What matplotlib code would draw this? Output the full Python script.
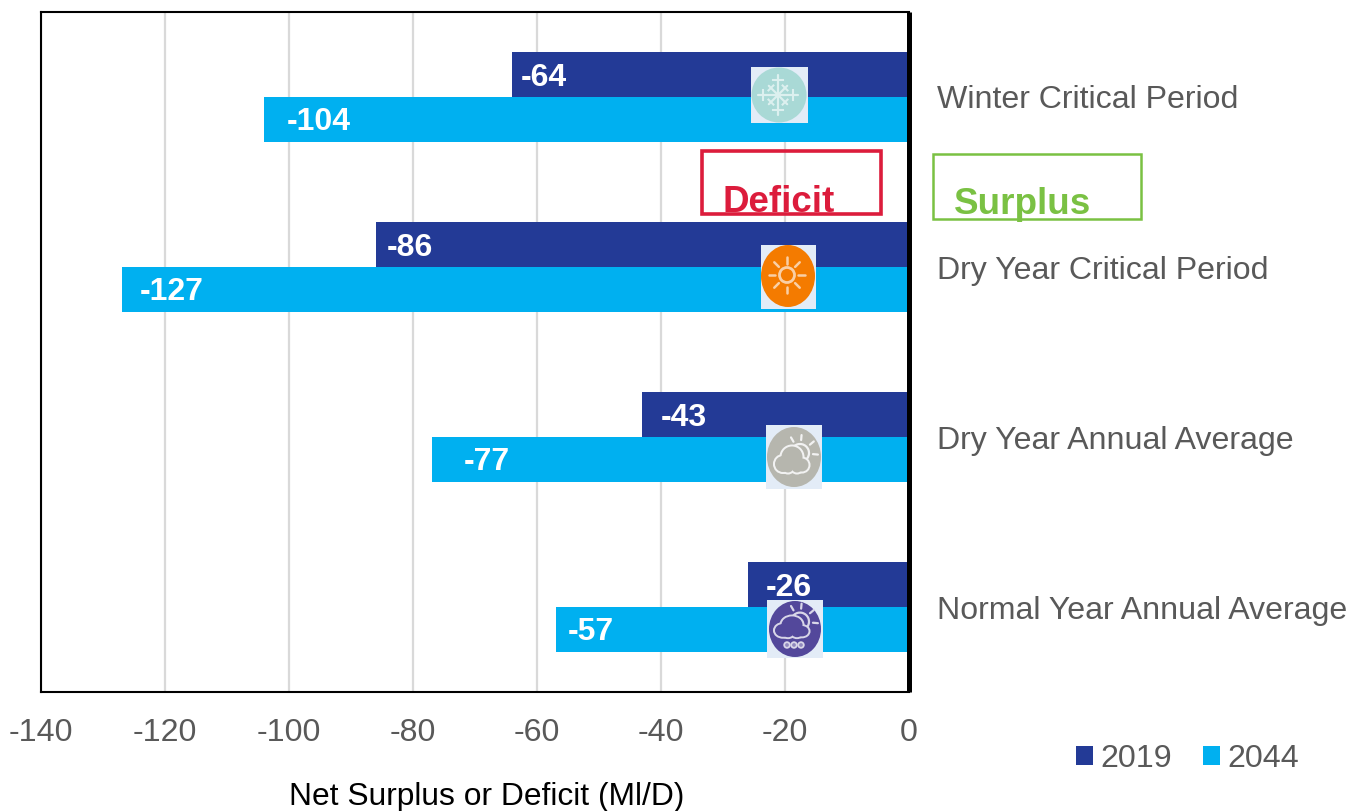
#!/usr/bin/env python3
"""Net surplus or deficit by planning scenario, 2019 vs 2044."""

import numpy as np
import matplotlib
matplotlib.use('Agg')
import matplotlib.pyplot as plt
from matplotlib.patches import Circle, Ellipse, Rectangle, Arc

plt.rcParams['font.family'] = ['Liberation Sans', 'DejaVu Sans']
plt.rcParams['axes.unicode_minus'] = False

categories = ['Winter Critical Period', 'Dry Year Critical Period',
              'Dry Year Annual Average', 'Normal Year Annual Average']
values_2019 = [-64, -86, -43, -26]
values_2044 = [-104, -127, -77, -57]
x_ticks = [-140, -120, -100, -80, -60, -40, -20, 0]

# label start, in pixels right of the bar end
offsets_2019 = [9, 11, 18, 18]
offsets_2044 = [23, 18, 32, 12]

W, H = 1370, 811
NAVY = '#233a96'
SKY = '#00b0f0'
GREY_TEXT = '#595959'
FS = 23.1

fig = plt.figure(figsize=(W / 100, H / 100), dpi=100)
ax = fig.add_axes([41 / W, 1 - 692 / H, 868 / W, 680 / H])

# === bars ===
y = np.arange(len(categories))
bar_h = 0.262
bars_a = ax.barh(y - bar_h / 2, values_2019, bar_h, color=NAVY, label='2019', zorder=3)
bars_b = ax.barh(y + bar_h / 2, values_2044, bar_h, color=SKY, label='2044', zorder=3)

for ypos, val, off in zip(y - bar_h / 2, values_2019, offsets_2019):
    ax.annotate(str(val), (val, ypos), xytext=(off * 0.72, -2.3), textcoords='offset points',
                color='white', fontsize=23, fontweight='bold', va='center', zorder=4)
for ypos, val, off in zip(y + bar_h / 2, values_2044, offsets_2044):
    ax.annotate(str(val), (val, ypos), xytext=(off * 0.72, -2.3), textcoords='offset points',
                color='white', fontsize=23, fontweight='bold', va='center', zorder=4)

ax.set_xlim(-140, 0)
ax.set_ylim(3.5, -0.5)
ax.set_xticks(x_ticks)
ax.set_yticks(y)
ax.set_yticklabels(categories)
ax.yaxis.tick_right()
ax.tick_params(axis='x', length=0, pad=19, labelsize=FS, labelcolor=GREY_TEXT)
ax.tick_params(axis='y', length=0, pad=20, labelsize=FS, labelcolor=GREY_TEXT)
ax.grid(True, axis='x', color='#d9d9d9', linewidth=1.6, zorder=0)
ax.set_axisbelow(True)
for side in ['top', 'left', 'bottom']:
    ax.spines[side].set_linewidth(1.5)
ax.spines['right'].set_linewidth(3.6)
ax.spines['right'].set_capstyle('butt')
ax.spines['right'].set_zorder(6)

fig.text(487 / W, 1 - 797 / H, 'Net Surplus or Deficit (Ml/D)', fontsize=22.9,
         color='black', ha='center', va='center')

fig.legend(handles=[bars_a, bars_b], loc='center', bbox_to_anchor=(1187.5 / W, 1 - 759 / H),
           ncol=2, frameon=False, fontsize=FS, labelcolor=GREY_TEXT, handlelength=0.53,
           handleheight=0.53, handletextpad=0.25, columnspacing=0.95, borderpad=0)

# === overlay in pixel coordinates: note boxes and icons ===
ov = fig.add_axes([0, 0, 1, 1], zorder=10)
ov.set_xlim(0, W)
ov.set_ylim(H, 0)
ov.axis('off')
ov.patch.set_alpha(0)

RED = '#dc1c3c'
GREEN = '#7ac143'
ov.add_patch(Rectangle((702.5, 151), 179, 63, fill=False, ec=RED, lw=2.6))
ov.text(723, 202, 'Deficit', color=RED, fontsize=26.5, fontweight='bold', va='center')
ov.add_patch(Rectangle((933.5, 154), 208, 65, fill=False, ec=GREEN, lw=1.8))
ov.text(954, 204, 'Surplus', color=GREEN, fontsize=26.6, fontweight='bold', va='center')


def backing(x0, y0, x1, y1, disc, cx, cy, w, h):
    """Pale square with the coloured disc on it."""
    ov.add_patch(Rectangle((x0, y0), x1 - x0, y1 - y0, fc='#e3ecf7', ec='none'))
    ov.add_patch(Ellipse((cx, cy), w, h, fc=disc, ec='none'))


def rays(cx, cy, angles, r0, r1, lw=1.6, color='#f6e3d2'):
    for deg in angles:
        a = np.radians(deg)
        ov.plot([cx + r0 * np.cos(a), cx + r1 * np.cos(a)],
                [cy + r0 * np.sin(a), cy + r1 * np.sin(a)],
                color=color, lw=lw, solid_capstyle='round')


def cloud(cx, cy, body, line='#f2f2f2', sy=1.0):
    """Cloud outline: outlined circles, then the same circles filled over the joins."""
    parts = [(-9, 3, 8.5), (0, -4, 11), (10, 4, 7), (-4, 6, 6), (5, 6, 6)]
    ov.add_patch(Arc((cx + 8, cy - 8 * sy), 18, 18, theta1=200, theta2=60, color=line, lw=1.6))
    for dx, dy, r in parts:
        ov.add_patch(Ellipse((cx + dx, cy + dy * sy), 2 * r, 2 * r * sy, fc=body, ec=line, lw=2.2))
    for dx, dy, r in parts:
        ov.add_patch(Ellipse((cx + dx, cy + dy * sy), 2 * r - 1, (2 * r - 1) * sy, fc=body, ec='none'))
    rays(cx + 8, cy - 8 * sy, [-120, -85, -40, 5], 13, 18, color=line)


# snowflake
backing(751, 67, 808, 123, '#a9d9d6', 779, 95, 55, 55)
FLAKE = '#dcf0ef'
for deg in range(0, 360, 45):
    axial = deg % 90 == 0
    reach, bar_at, half = (20, 15, 5) if axial else (13, 10, 3.5)
    rays(778, 95, [deg], 0, reach, color=FLAKE)
    a = np.radians(deg)
    b = a + np.pi / 2
    px, py = 778 + bar_at * np.cos(a), 95 + bar_at * np.sin(a)
    ov.plot([px - half * np.cos(b), px + half * np.cos(b)],
            [py - half * np.sin(b), py + half * np.sin(b)], color=FLAKE, lw=1.5)
ov.add_patch(Circle((778, 95), 2.5, fc='#f5fbfb', ec='none'))

# sun
backing(761, 245, 816, 309, '#f47b00', 788, 276, 54, 62)
ov.add_patch(Circle((787, 275), 7.5, fill=False, ec='#f9cfa6', lw=2.0))
rays(787, 275, range(0, 360, 45), 11.5, 18, lw=1.8, color='#f9cfa6')

# part cloud
backing(766, 425, 822, 489, '#b6b6ae', 794, 457, 54, 60)
cloud(792, 461, '#b6b6ae')

# rain cloud
backing(767, 600, 823, 658, '#53489b', 795, 629, 52, 56)
cloud(792, 628, '#53489b', line='#d8d6e8', sy=0.8)
for dx in [-7, 0, 7]:
    ov.add_patch(Circle((794 + dx, 645), 2.8, fc='#8f88bd', ec='#d8d6e8', lw=1.3))

plt.savefig('out.png', dpi=100)
